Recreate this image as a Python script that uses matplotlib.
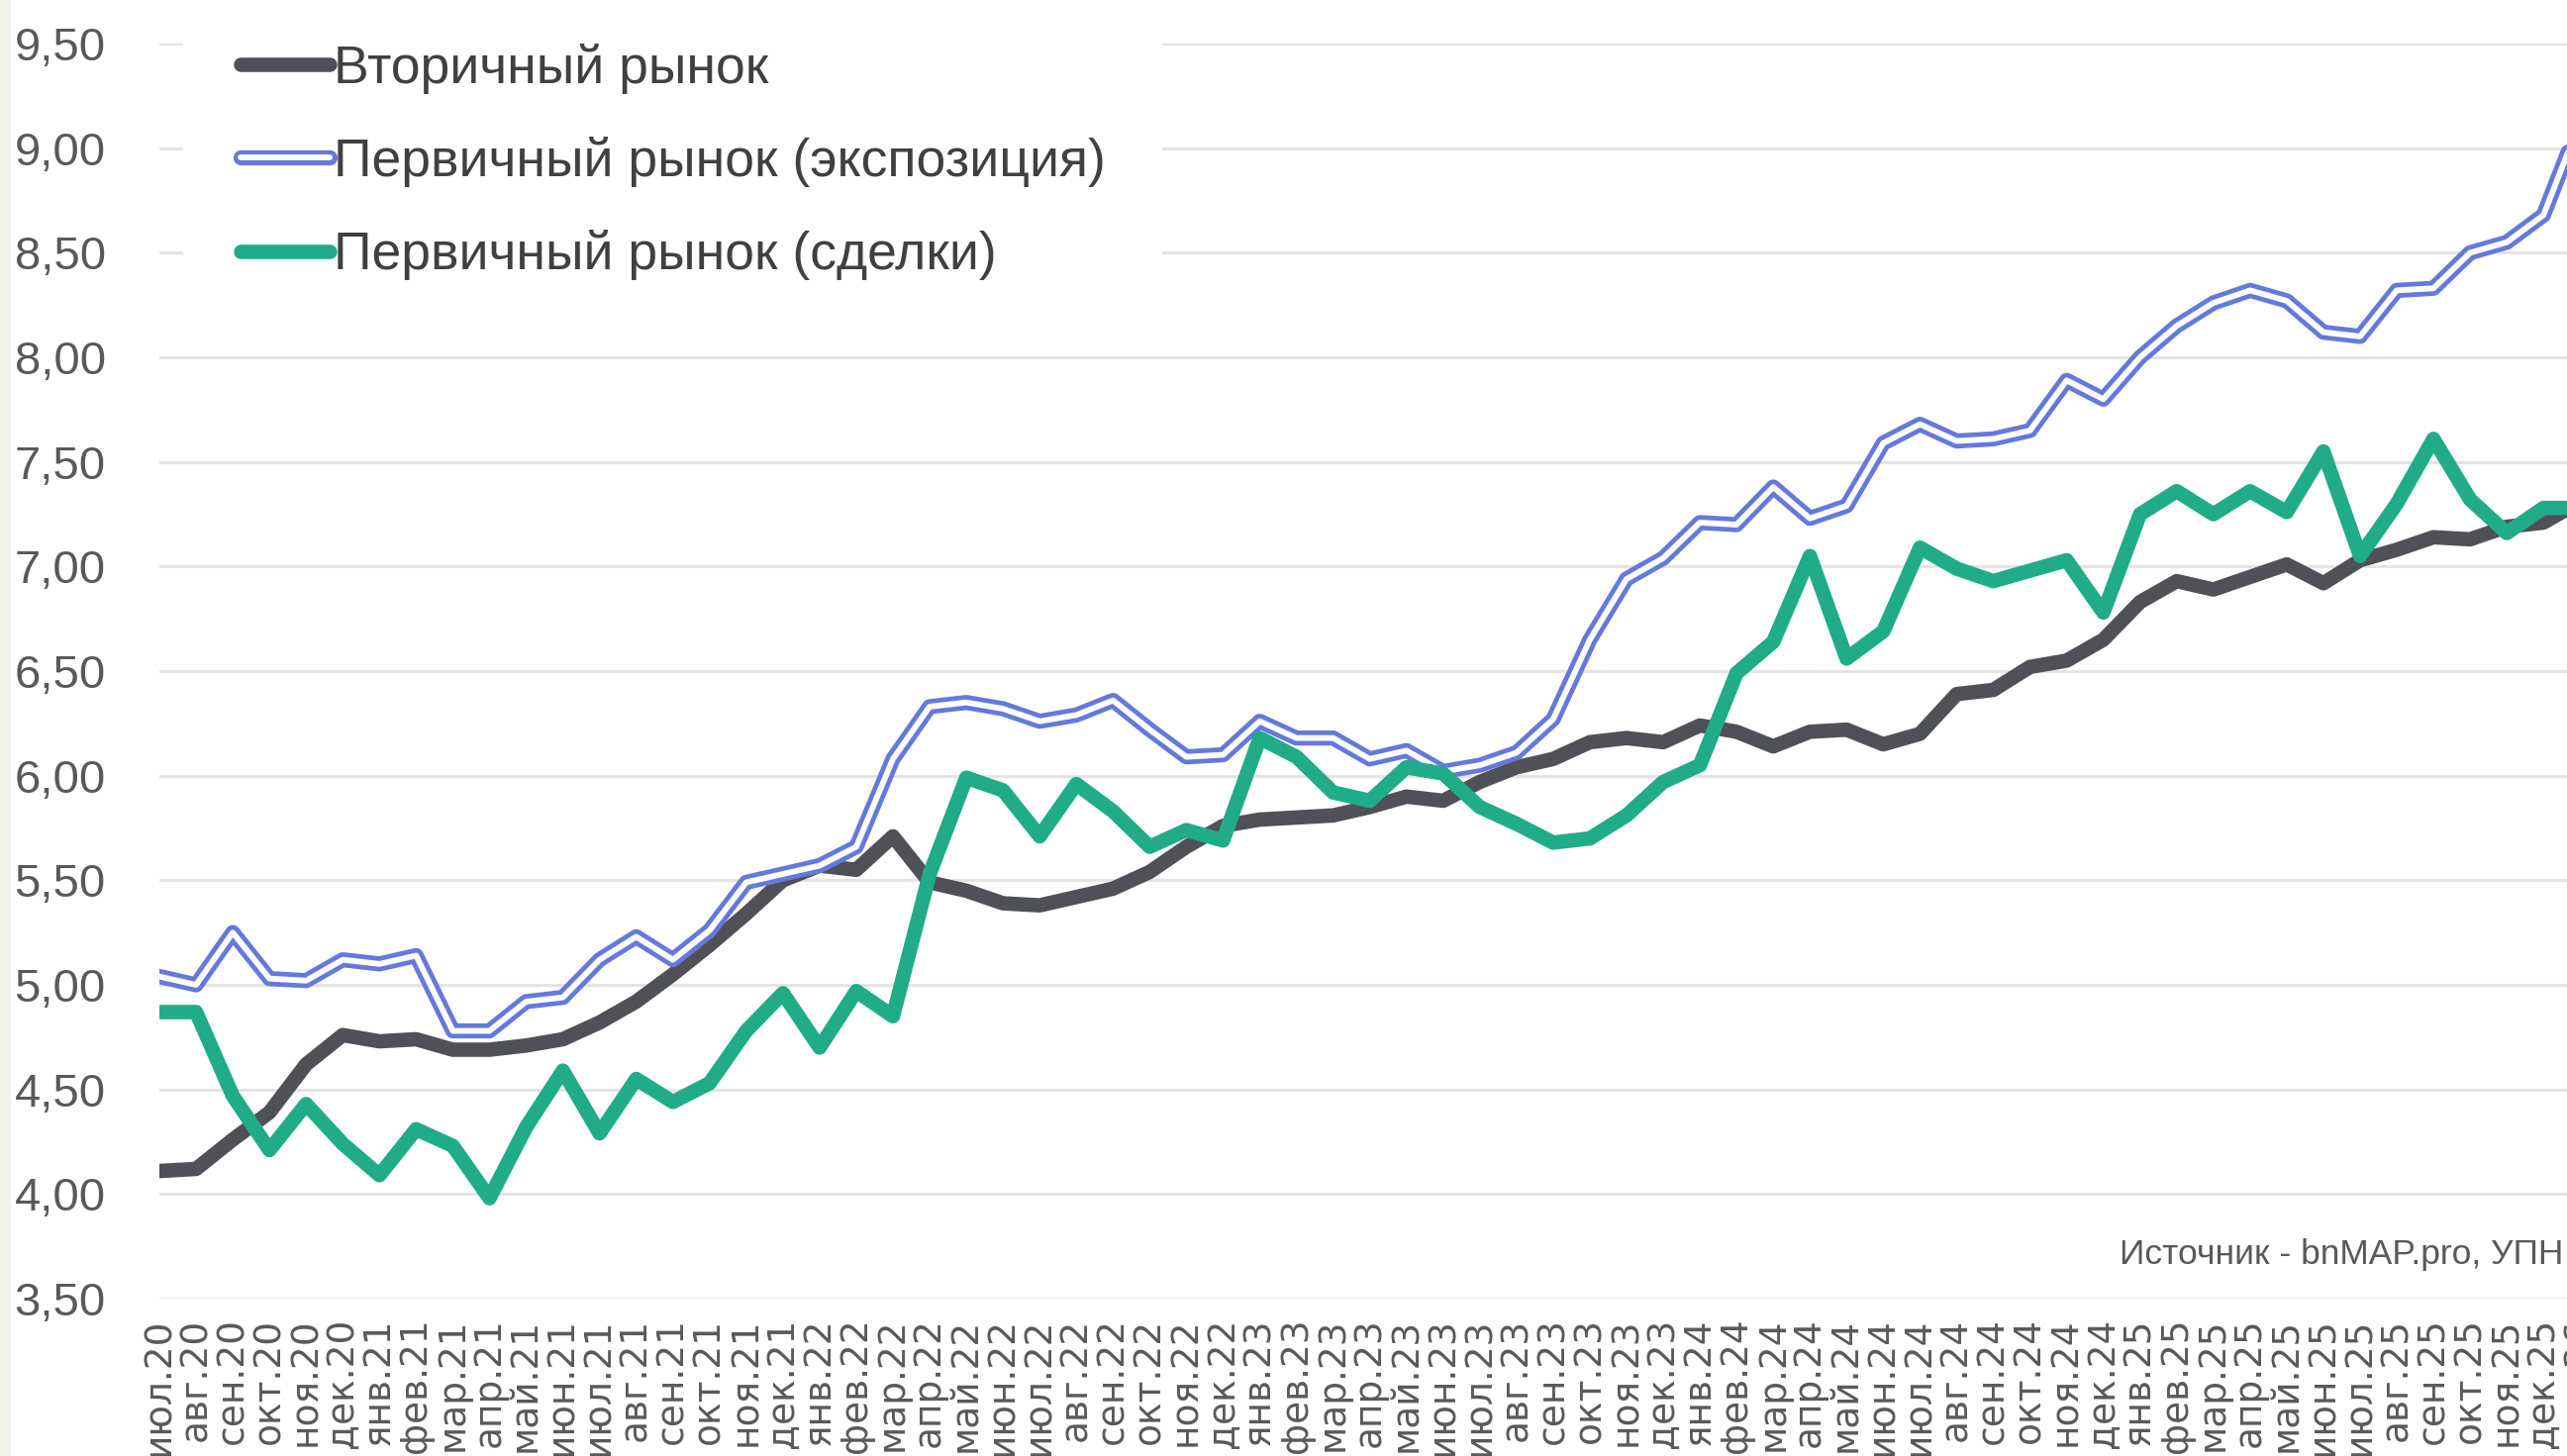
import matplotlib
matplotlib.use('Agg')
import matplotlib.pyplot as plt
import matplotlib.patheffects as pe
from matplotlib.patches import Rectangle
from matplotlib.font_manager import FontProperties

# ---------------- data ----------------
MONTHS = ['янв', 'фев', 'мар', 'апр', 'май', 'июн', 'июл', 'авг', 'сен', 'окт', 'ноя', 'дек']
periods = [(6, 20)] + [(m, 20) for m in range(7, 12)] + \
          [(m, y) for y in (21, 22, 23, 24, 25) for m in range(12)] + [(0, 26)]
x_labels = [f'{MONTHS[m]}.{y}' for m, y in periods]

secondary = [4.11, 4.12, 4.26, 4.39, 4.62, 4.76, 4.73, 4.74, 4.69, 4.69,
             4.71, 4.74, 4.82, 4.92, 5.05, 5.19, 5.34, 5.50, 5.57, 5.55,
             5.71, 5.49, 5.45, 5.39, 5.38, 5.42, 5.46, 5.54, 5.66, 5.76,
             5.79, 5.80, 5.81, 5.85, 5.90, 5.88, 5.97, 6.04, 6.08, 6.16,
             6.18, 6.16, 6.24, 6.21, 6.14, 6.21, 6.22, 6.15, 6.20, 6.39,
             6.41, 6.52, 6.55, 6.65, 6.83, 6.93, 6.89, 6.95, 7.01, 6.92,
             7.03, 7.08, 7.14, 7.13, 7.19, 7.21, 7.31]

primary_exposure = [5.04, 5.00, 5.25, 5.03, 5.02, 5.12, 5.10, 5.14, 4.78, 4.78,
                    4.92, 4.94, 5.12, 5.23, 5.12, 5.26, 5.49, 5.53, 5.57, 5.66,
                    6.08, 6.33, 6.35, 6.32, 6.26, 6.29, 6.36, 6.22, 6.09, 6.10,
                    6.26, 6.18, 6.18, 6.08, 6.12, 6.02, 6.05, 6.11, 6.27, 6.65,
                    6.94, 7.04, 7.21, 7.20, 7.38, 7.23, 7.29, 7.59, 7.68, 7.60,
                    7.61, 7.65, 7.89, 7.80, 8.00, 8.15, 8.26, 8.32, 8.27, 8.12,
                    8.10, 8.32, 8.33, 8.50, 8.55, 8.68, 9.13]

primary_deals = [4.87, 4.87, 4.47, 4.21, 4.43, 4.24, 4.09, 4.31, 4.23, 3.98,
                 4.32, 4.59, 4.29, 4.55, 4.44, 4.53, 4.78, 4.96, 4.70, 4.97,
                 4.85, 5.53, 5.99, 5.93, 5.71, 5.96, 5.83, 5.66, 5.74, 5.69,
                 6.18, 6.09, 5.92, 5.88, 6.04, 6.01, 5.85, 5.77, 5.68, 5.70,
                 5.81, 5.97, 6.05, 6.49, 6.64, 7.05, 6.56, 6.69, 7.09, 6.99,
                 6.93, 6.98, 7.03, 6.78, 7.25, 7.36, 7.25, 7.36, 7.26, 7.55,
                 7.05, 7.30, 7.61, 7.32, 7.16, 7.28, 7.28]

series_names = ['Вторичный рынок', 'Первичный рынок (экспозиция)', 'Первичный рынок (сделки)']
y_ticks = [3.5, 4.0, 4.5, 5.0, 5.5, 6.0, 6.5, 7.0, 7.5, 8.0, 8.5, 9.0, 9.5]
source_text = 'Источник - bnMAP.pro, УПН'

# ---------------- style ----------------
C_BLACK = '#505057'
C_BLUE = '#6479DB'
C_GREEN = '#20AC86'
C_TEXT = '#595959'
C_LEG = '#404040'

W, H = 2593, 1471
fig = plt.figure(figsize=(W / 100, H / 100), dpi=100)
fig.patch.set_facecolor('white')
fig.patches.append(Rectangle((0, 0), 11 / W, 1, transform=fig.transFigure,
                             facecolor='#F2F2EA', edgecolor='none', zorder=0))

step = 37.05
n = len(x_labels)
ax = fig.add_axes([161 / W, (H - 1312) / H, ((n - 1) * step) / W, (1312 - 44) / H])
xs = list(range(n))

ax.plot(xs, secondary, color=C_BLACK, lw=10.5, solid_capstyle='round',
        solid_joinstyle='round', label=series_names[0], zorder=3)
ax.plot(xs, primary_exposure, color='white', lw=4.2, solid_capstyle='round',
        solid_joinstyle='round', label=series_names[1], zorder=4,
        path_effects=[pe.Stroke(linewidth=11.0, foreground=C_BLUE), pe.Normal()])
ax.plot(xs, primary_deals, color=C_GREEN, lw=10.5, solid_capstyle='round',
        solid_joinstyle='round', label=series_names[2], zorder=5)

ax.set_xlim(0, n - 1)
ax.set_ylim(3.5, 9.5)
ax.set_yticks(y_ticks)
ax.set_yticklabels([f'{v:.2f}'.replace('.', ',') for v in y_ticks],
                   fontsize=34, color=C_TEXT, family='Liberation Sans')
ax.set_xticks(xs)
ax.set_xticklabels(x_labels, rotation=90, fontsize=27, color=C_TEXT,
                   family='DejaVu Sans')
ax.tick_params(axis='y', length=0, pad=39)
ax.tick_params(axis='x', length=0, pad=14)
ax.yaxis.grid(True, color='#E4E4E4', lw=2.2)
ax.set_axisbelow(True)
for s in ax.spines.values():
    s.set_visible(False)

leg = ax.legend(loc='upper left', bbox_to_anchor=(185 / W, 1 + 14 / H),
                bbox_transform=fig.transFigure, borderaxespad=0, borderpad=1.08,
                handlelength=1.68, handletextpad=0.08, labelspacing=0.81,
                frameon=True, fancybox=False, framealpha=1,
                prop=FontProperties(family='Liberation Sans', size=38.5))
leg.get_frame().set_facecolor('white')
leg.get_frame().set_edgecolor('none')
for t in leg.get_texts():
    t.set_color(C_LEG)

fig.text(2141 / W, 1 - 1268 / H, source_text, fontsize=25.5, color=C_TEXT,
         va='center', ha='left', family='Liberation Sans')

fig.savefig('out.png', dpi=100)
